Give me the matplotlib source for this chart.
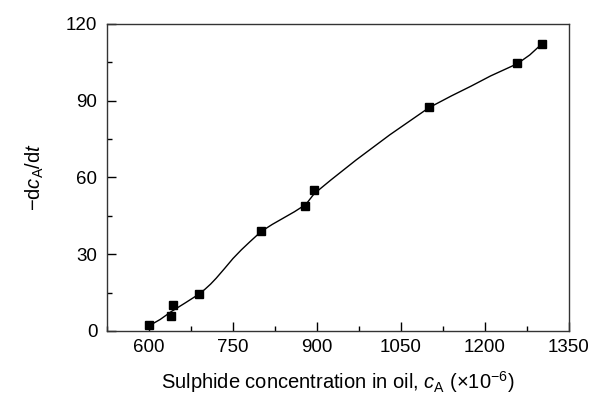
import numpy as np
import matplotlib.pyplot as plt
from matplotlib.ticker import MultipleLocator

plt.rcParams['font.family'] = ['Liberation Sans', 'DejaVu Sans']
plt.rcParams['mathtext.fontset'] = 'custom'
plt.rcParams['mathtext.rm'] = 'Liberation Sans'
plt.rcParams['mathtext.it'] = 'Liberation Sans:italic'

# measured points
conc = [600, 639, 643, 689, 800, 879, 894, 1100, 1258, 1301]
rate = [2.2, 5.7, 10.0, 14.5, 39.0, 48.9, 55.0, 87.4, 104.5, 111.9]

# smooth fitted curve
curve_x = [600, 620, 640, 665, 690, 700, 710, 720, 735, 750, 765, 780, 800, 820, 840,
           860, 880, 895, 925, 970, 1030, 1100, 1140, 1175, 1210, 1240, 1258, 1280, 1300]
curve_y = [2.0, 4.5, 7.6, 11.0, 14.5, 16.3, 18.3, 20.6, 24.4, 28.3, 31.7, 34.8, 38.8, 41.6, 44.1,
           46.6, 49.4, 53.6, 59.0, 66.8, 76.6, 87.2, 91.8, 95.6, 99.6, 102.6, 104.4, 107.8, 111.8]

fig = plt.figure(figsize=(5.93, 4.03), dpi=100)
ax = fig.add_axes([0.1804, 0.1787, 0.7791, 0.7625])

ax.plot(curve_x, curve_y, color='black', lw=1.0)
ax.plot(conc, rate, 's', color='black', ms=6.2)

ax.set_xlim(525, 1350)
ax.set_ylim(0, 120)
ax.xaxis.set_major_locator(MultipleLocator(150))
ax.xaxis.set_minor_locator(MultipleLocator(75))
ax.yaxis.set_major_locator(MultipleLocator(30))
ax.yaxis.set_minor_locator(MultipleLocator(15))
ax.tick_params(which='both', direction='in', labelsize=13.5, width=1)
ax.tick_params(which='major', length=6.5)
ax.tick_params(which='minor', length=3.5)
ax.tick_params(axis='x', which='major', pad=6)
ax.tick_params(axis='y', which='major', pad=7)
for s in ax.spines.values():
    s.set_linewidth(1)
    s.set_color('#333333')

ax.set_xlabel(r'Sulphide concentration in oil, $c_{\rm A}$ ($\times$10$^{-6}$)', fontsize=14.5, labelpad=9)
ax.set_ylabel(r'$-$d$c_{\rm A}$/d$t$', fontsize=14.5, labelpad=14)

fig.savefig('out.png', dpi=100)
